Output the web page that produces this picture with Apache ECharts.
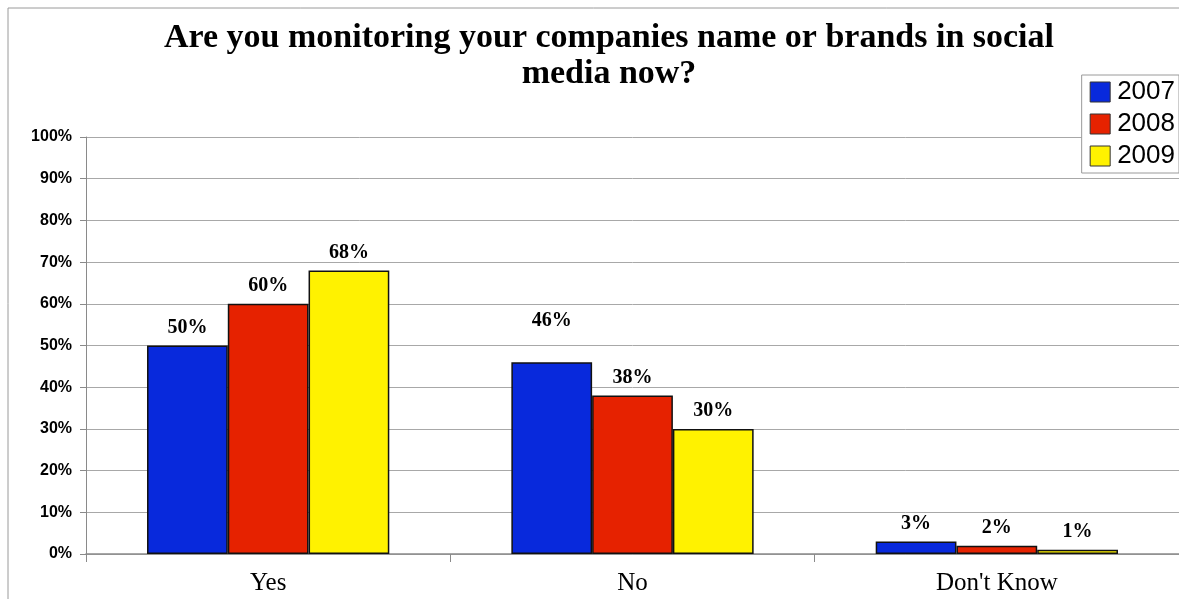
<!DOCTYPE html>
<html>
<head>
<meta charset="utf-8">
<script src="https://cdn.jsdelivr.net/npm/echarts@6/dist/echarts.min.js"></script>
<style>
  html, body { margin: 0; padding: 0; background: #fff; }
  #chart { width: 1179px; height: 599px; }
</style>
</head>
<body>
<div id="chart"></div>
<script>
// Survey answers by year
const categories = ['Yes', 'No', "Don't Know"];
const years = ['2007', '2008', '2009'];
const values2007 = [50, 46, 3];
const values2008 = [60, 38, 2];
const values2009 = [68, 30, 1];
const yTicks = [0, 10, 20, 30, 40, 50, 60, 70, 80, 90, 100];

const colors = ['#0829dc', '#e62200', '#fff200'];
const seriesValues = [values2007, values2008, values2009];

const labelFont = {
  fontFamily: 'Liberation Serif',
  fontWeight: 'bold',
  fontSize: 20,
  color: '#000'
};

const chart = echarts.init(document.getElementById('chart'));

const series = years.map((year, i) => ({
  name: year,
  type: 'bar',
  barGap: '0%',
  barCategoryGap: '33.5%',
  itemStyle: { color: colors[i], borderColor: '#111', borderWidth: 1.5 },
  label: Object.assign({ show: true, position: 'top', distance: 8, formatter: '{c}%' }, labelFont),
  data: seriesValues[i].map((v, j) => {
    // the 2007 "No" label sits higher above its bar
    if (i === 0 && j === 1) return { value: v, label: { distance: 31 } };
    return v;
  })
}));

chart.setOption({
  animation: false,
  backgroundColor: '#fff',
  title: {
    text: 'Are you monitoring your companies name or brands in social\nmedia now?',
    left: 604,
    textAlign: 'center',
    top: 15,
    textStyle: {
      fontFamily: 'Liberation Serif',
      fontWeight: 'bold',
      fontSize: 34,
      lineHeight: 36,
      color: '#000'
    }
  },
  legend: {
    orient: 'vertical',
    right: 0,
    top: 75,
    width: 100,
    itemWidth: 20,
    itemHeight: 20,
    itemGap: 6,
    padding: [4, 4, 4, 8],
    borderColor: '#9a9a9a',
    borderWidth: 1,
    backgroundColor: '#fff',
    icon: 'rect',
    itemStyle: { borderColor: '#333', borderWidth: 1 },
    textStyle: { fontFamily: 'Liberation Sans', fontSize: 26, color: '#000', padding: [0, 0, 0, 2] },
    data: years
  },
  graphic: [
    { type: 'line', shape: { x1: 8, y1: 8, x2: 1179, y2: 8 }, style: { stroke: '#9a9a9a', lineWidth: 1 }, z: 0 },
    { type: 'line', shape: { x1: 8, y1: 8, x2: 8, y2: 599 }, style: { stroke: '#9a9a9a', lineWidth: 1 }, z: 0 }
  ],
  grid: {
    left: 86,
    top: 137,
    width: 1096,
    bottom: 45,
    containLabel: false
  },
  xAxis: {
    type: 'category',
    data: categories,
    axisLine: { lineStyle: { color: '#8a8a8a', width: 1.5 } },
    axisTick: { show: true, length: 8, lineStyle: { color: '#8a8a8a' } },
    axisLabel: {
      fontFamily: 'Liberation Serif',
      fontSize: 25,
      color: '#000',
      margin: 17
    }
  },
  yAxis: {
    type: 'value',
    min: 0,
    max: 100,
    interval: 10,
    axisLine: { show: true, lineStyle: { color: '#8a8a8a', width: 1 } },
    axisTick: { show: true, length: 6, lineStyle: { color: '#8a8a8a' } },
    splitLine: { lineStyle: { color: '#a8a8a8', width: 1 } },
    axisLabel: {
      fontFamily: 'Liberation Sans',
      fontWeight: 'bold',
      fontSize: 16,
      color: '#000',
      margin: 14,
      formatter: v => (yTicks.includes(v) ? v + '%' : '')
    }
  },
  series: series
});
</script>
</body>
</html>
